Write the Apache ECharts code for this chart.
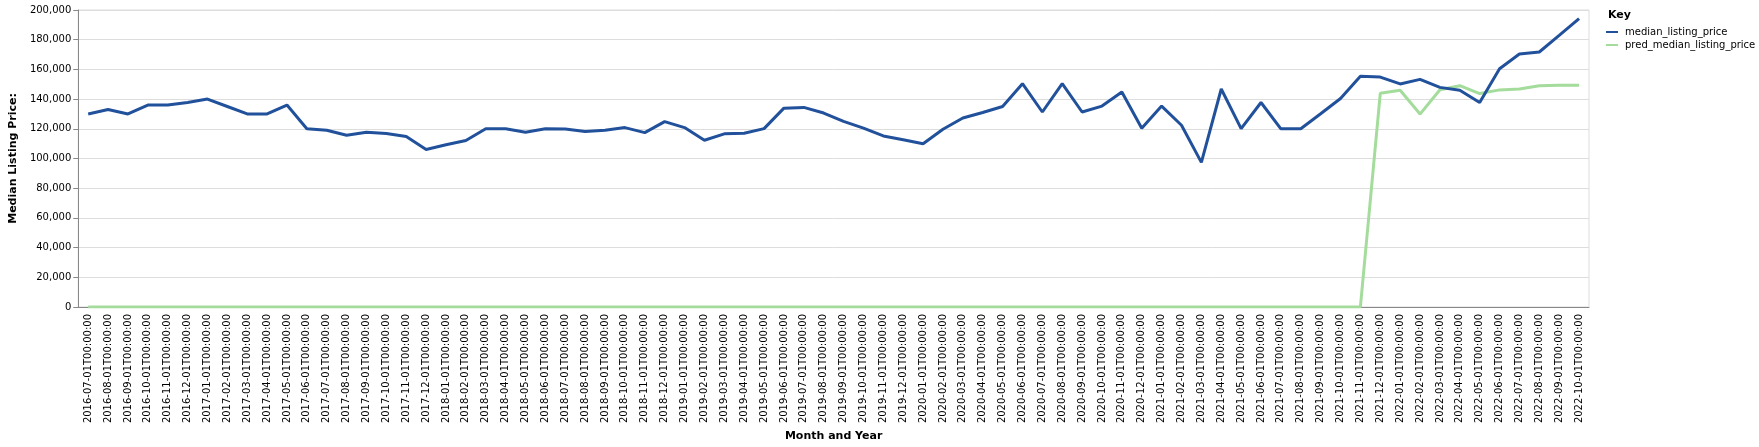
<!DOCTYPE html>
<html>
<head>
<meta charset="utf-8">
<script src="https://cdn.jsdelivr.net/npm/echarts@6/dist/echarts.min.js"></script>
<style>
    html, body { margin: 0; padding: 0; background: #fff; }
    #chart { width: 1759px; height: 447px; }
</style>
</head>
<body>
<div id="chart"></div>
<script>
// month labels, one per point
const months = [
    '2016-07', '2016-08', '2016-09', '2016-10', '2016-11', '2016-12',
    '2017-01', '2017-02', '2017-03', '2017-04', '2017-05', '2017-06',
    '2017-07', '2017-08', '2017-09', '2017-10', '2017-11', '2017-12',
    '2018-01', '2018-02', '2018-03', '2018-04', '2018-05', '2018-06',
    '2018-07', '2018-08', '2018-09', '2018-10', '2018-11', '2018-12',
    '2019-01', '2019-02', '2019-03', '2019-04', '2019-05', '2019-06',
    '2019-07', '2019-08', '2019-09', '2019-10', '2019-11', '2019-12',
    '2020-01', '2020-02', '2020-03', '2020-04', '2020-05', '2020-06',
    '2020-07', '2020-08', '2020-09', '2020-10', '2020-11', '2020-12',
    '2021-01', '2021-02', '2021-03', '2021-04', '2021-05', '2021-06',
    '2021-07', '2021-08', '2021-09', '2021-10', '2021-11', '2021-12',
    '2022-01', '2022-02', '2022-03', '2022-04', '2022-05', '2022-06',
    '2022-07', '2022-08', '2022-09', '2022-10'
]
const categories = months.map(m => m + '-01T00:00:00')

const medianListingPrice = [
    130000, 133000, 130000, 136000, 136000, 137700,
    140000, 135000, 130000, 130000, 136000, 120000,
    119000, 115700, 117700, 116800, 114800, 106100,
    109200, 112100, 120000, 120000, 117700, 120000,
    119900, 118200, 119000, 120800, 117400, 124800,
    120800, 112300, 116600, 117000, 120100, 133900,
    134400, 130600, 125000, 120400, 115200, 112600,
    109900, 119700, 127300, 131000, 135000, 150400,
    131300, 150400, 131300, 135300, 144800, 120400,
    135300, 122400, 97400, 146800, 120100, 137700,
    120000, 120000, 130100, 140400, 155300, 154800,
    150200, 153300, 147900, 145900, 137700, 160400,
    170400, 171700, 182900, 194200
]

// prediction is zero before 2021-12
const predMedianListingPrice = [
    0, 0, 0, 0, 0, 0, 0, 0, 0, 0, 0, 0,
    0, 0, 0, 0, 0, 0, 0, 0, 0, 0, 0, 0,
    0, 0, 0, 0, 0, 0, 0, 0, 0, 0, 0, 0,
    0, 0, 0, 0, 0, 0, 0, 0, 0, 0, 0, 0,
    0, 0, 0, 0, 0, 0, 0, 0, 0, 0, 0, 0,
    0, 0, 0, 0, 0, 143900,
    145900, 129900, 146300, 149000, 143700, 146200,
    146800, 149000, 149300, 149300
]

const font = 'DejaVu Sans'
const blue = '#22519c'
const green = '#a4dc9c'

let chart = echarts.init(document.getElementById('chart'))

chart.setOption({
    animation: false,
    backgroundColor: '#fff',
    textStyle: { fontFamily: font },
    title: {
        text: 'Key',
        left: 1603,
        top: 5,
        textStyle: { fontFamily: font, fontSize: 11, fontWeight: 'bold', color: '#000' }
    },
    legend: {
        orient: 'vertical',
        left: 1601,
        top: 22,
        itemWidth: 12,
        itemHeight: 2,
        itemGap: 3,
        icon: 'rect',
        textStyle: { fontFamily: font, fontSize: 10, color: '#000', padding: [0, 0, 0, 2] },
        data: ['median_listing_price', 'pred_median_listing_price']
    },
    grid: {
        show: true,
        left: 69,
        right: 170,
        top: 10,
        bottom: 137,
        borderColor: '#ddd',
        borderWidth: 1,
        backgroundColor: '#fff'
    },
    xAxis: {
        type: 'category',
        data: categories,
        boundaryGap: true,
        name: 'Month and Year',
        nameLocation: 'middle',
        nameGap: 120,
        nameTextStyle: { fontFamily: font, fontSize: 11, fontWeight: 'bold', color: '#000' },
        axisLine: { lineStyle: { color: '#888', width: 1 } },
        axisTick: { alignWithLabel: true, length: 5, lineStyle: { color: '#888' } },
        axisLabel: {
            interval: 0,
            rotate: 90,
            fontFamily: font,
            fontSize: 10,
            color: '#000',
            margin: 7
        },
        splitLine: { show: false }
    },
    yAxis: {
        type: 'value',
        min: 0,
        max: 200000,
        interval: 20000,
        name: 'Median Listing Price:',
        nameLocation: 'middle',
        nameRotate: 90,
        nameGap: 52,
        nameTextStyle: { fontFamily: font, fontSize: 11, fontWeight: 'bold', color: '#000' },
        axisLine: { show: true, lineStyle: { color: '#888', width: 1 } },
        axisTick: { show: true, length: 5, lineStyle: { color: '#888' } },
        axisLabel: {
            fontFamily: font,
            fontSize: 10,
            color: '#000',
            margin: 7,
            formatter: v => v.toLocaleString('en-US')
        },
        splitLine: { lineStyle: { color: '#ddd', width: 1 } }
    },
    series: [
        {
            name: 'median_listing_price',
            type: 'line',
            data: medianListingPrice,
            showSymbol: false,
            symbol: 'none',
            itemStyle: { color: blue },
            lineStyle: { color: blue, width: 3 },
            z: 3
        },
        {
            name: 'pred_median_listing_price',
            type: 'line',
            data: predMedianListingPrice,
            showSymbol: false,
            symbol: 'none',
            itemStyle: { color: green },
            lineStyle: { color: green, width: 3 },
            z: 2
        }
    ]
})
</script>
</body>
</html>
